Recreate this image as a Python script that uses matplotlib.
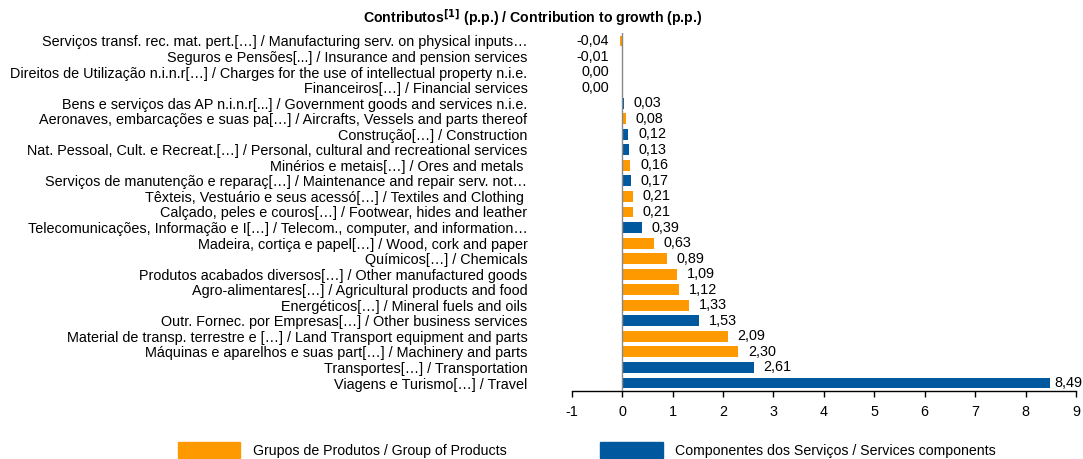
import numpy as np
import matplotlib.pyplot as plt
from matplotlib.patches import Patch

plt.rcParams['font.family'] = ['Liberation Sans', 'DejaVu Sans']
plt.rcParams['font.size'] = 10.4
plt.rcParams['axes.unicode_minus'] = False

# data (top to bottom)
labels = [
    "Serviços transf. rec. mat. pert.[…] / Manufacturing serv. on physical inputs…",
    "Seguros e Pensões[...] / Insurance and pension services",
    "Direitos de Utilização n.i.n.r[…] / Charges for the use of intellectual property n.i.e.",
    "Financeiros[…] / Financial services",
    "Bens e serviços das AP n.i.n.r[...] / Government goods and services n.i.e.",
    "Aeronaves, embarcações e suas pa[…] / Aircrafts, Vessels and parts thereof",
    "Construção[…] / Construction",
    "Nat. Pessoal, Cult. e Recreat.[…] / Personal, cultural and recreational services",
    "Minérios e metais[…] / Ores and metals ",
    "Serviços de manutenção e reparaç[…] / Maintenance and repair serv. not…",
    "Têxteis, Vestuário e seus acessó[…] / Textiles and Clothing ",
    "Calçado, peles e couros[…] / Footwear, hides and leather",
    "Telecomunicações, Informação e I[…] / Telecom., computer, and information…",
    "Madeira, cortiça e papel[…] / Wood, cork and paper",
    "Químicos[…] / Chemicals",
    "Produtos acabados diversos[…] / Other manufactured goods",
    "Agro-alimentares[…] / Agricultural products and food",
    "Energéticos[…] / Mineral fuels and oils",
    "Outr. Fornec. por Empresas[…] / Other business services",
    "Material de transp. terrestre e […] / Land Transport equipment and parts",
    "Máquinas e aparelhos e suas part[…] / Machinery and parts",
    "Transportes[…] / Transportation",
    "Viagens e Turismo[…] / Travel",
]
values = [-0.04, -0.01, 0.00, 0.00, 0.03, 0.08, 0.12, 0.13, 0.16, 0.17, 0.21, 0.21,
          0.39, 0.63, 0.89, 1.09, 1.12, 1.33, 1.53, 2.09, 2.30, 2.61, 8.49]
# P = product group, S = services component
groups = ['P', 'P', 'S', 'P', 'S', 'P', 'S', 'S', 'P', 'S', 'P', 'P',
          'S', 'P', 'P', 'P', 'P', 'P', 'S', 'P', 'P', 'S', 'S']

orange = '#FF9900'
blue = '#00599E'
colors = [orange if g == 'P' else blue for g in groups]

fig = plt.figure(figsize=(10.83, 4.59), dpi=100)
ax = fig.add_axes([0.528, 0.1486, 0.4655, 0.7791])

y = np.arange(len(values))
ax.barh(y, values, height=0.7, color=colors, edgecolor='none', zorder=2)
ax.axvline(0, color='#888888', lw=1, zorder=3)

ax.set_xlim(-1, 9)
ax.set_ylim(len(values) - 0.5, -0.5)
ax.set_xticks(range(-1, 10))
ax.set_yticks(y)
ax.set_yticklabels(labels)
ax.tick_params(axis='y', length=0, pad=32)
ax.tick_params(axis='x', direction='out', length=4, width=1, pad=6)
for s in ['top', 'right', 'left']:
    ax.spines[s].set_visible(False)
ax.spines['bottom'].set_linewidth(1)

# value labels
for yi, v in zip(y, values):
    txt = f"{v:.2f}".replace('.', ',')
    if v <= 0:
        ax.annotate(txt, (0, yi), xytext=(-9.5, 0), textcoords='offset points',
                    ha='right', va='center')
    else:
        pad = 3 if v > 8 else 7
        ax.annotate(txt, (v, yi), xytext=(pad, 0), textcoords='offset points',
                    ha='left', va='center', annotation_clip=False)

fig.text(0.492, 0.961, r"Contributos$^{\mathbf{[1]}}$ (p.p.) / Contribution to growth (p.p.)",
         ha='center', va='center', fontweight='bold', fontsize=10.2)

handles = [Patch(color=orange), Patch(color=blue)]
fig.legend(handles, ["Grupos de Produtos / Group of Products",
                     "Componentes dos Serviços / Services components"],
           loc='upper left', bbox_to_anchor=(0.1644, 0.037), ncol=2,
           frameon=False, borderpad=0, borderaxespad=0, fontsize=10.2,
           handlelength=4.4, handleheight=1.4, handletextpad=0.9,
           columnspacing=6.6)

fig.savefig('out.png', dpi=100)
